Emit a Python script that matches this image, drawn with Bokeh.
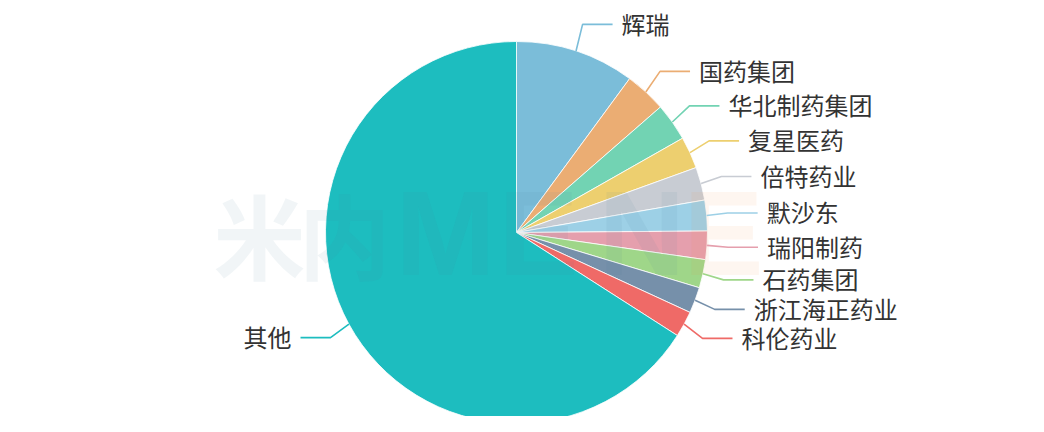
import math
from bokeh.plotting import figure
from bokeh.models import Range1d
from bokeh.embed import file_html
from bokeh.resources import INLINE
from bokeh.core.properties import value

# ---- data ----
names = ["辉瑞", "国药集团", "华北制药集团", "复星医药", "倍特药业", "默沙东",
         "瑞阳制药", "石药集团", "浙江海正药业", "科伦药业", "其他"]
shares = [10.1, 3.5, 3.2, 2.7, 2.8, 2.6, 2.4, 2.4, 2.2, 2.2, 66.0]
colors = ["#7bbdd9", "#ebad73", "#72d3b3", "#edcf6f", "#c8ccd3", "#9dd0e6",
          "#e59fad", "#9fd689", "#7690aa", "#ef6a67", "#1dbdbf"]

# watermark
wm_chars = ["米", "内", "M", "E", "N", "E"]
wm_colors = ["#4d7f99", "#4d7f99", "#4d7f99", "#4d7f99", "#4d7f99", "#f08a3c"]

# ---- layout ----
W, H = 1028, 416
PH = 432  # page height used for screen->data mapping
cx, cy = 516, PH - 232
R = 191
RX, RY = 212, 219   # label-line elbow ellipse
SEG = 30
FONT = value("Noto Sans CJK SC")

p = figure(width=W, height=H, x_range=Range1d(0, W), y_range=Range1d(PH - H, PH),
           output_backend="svg", toolbar_location=None, min_border=0)
p.axis.visible = False
p.grid.visible = False
p.outline_line_color = None
p.background_fill_color = "white"

total = sum(shares)
cum = 0.0
starts, ends, mids = [], [], []
for s in shares:
    a0 = cum / total * 360.0
    cum += s
    a1 = cum / total * 360.0
    starts.append(math.radians(90 - a1))
    ends.append(math.radians(90 - a0))
    mids.append(math.radians((a0 + a1) / 2))

p.wedge(x=[cx] * len(shares), y=[cy] * len(shares), radius=R,
        start_angle=starts, end_angle=ends,
        fill_color=colors, line_color="white", line_width=0.8)

# watermark (drawn over the pie, very faint)
wm_x = [213, 298, 395, 498, 598, 683]
for ch, x0, col in zip(wm_chars, wm_x, wm_colors):
    cjk = ord(ch) > 255
    p.text(x=[x0], y=[cy], text=[ch], text_baseline="middle", text_align="left",
           text_font=value("Noto Sans CJK SC") if cjk else value("Liberation Sans"),
           text_font_style="bold", text_font_size="92px" if cjk else "120px",
           text_color=col, text_alpha=0.08)

# label positions
pts = []
for i, th in enumerate(mids):
    ex, ey = cx + R * math.sin(th), cy + R * math.cos(th)
    bx, by = cx + RX * math.sin(th), cy + RY * math.cos(th)
    pts.append([ex, ey, bx, by, math.sin(th) >= 0])

# relax overlapping labels on each side
GAP = 29
for side in (True, False):
    idx = [i for i in range(len(pts)) if pts[i][4] == side]
    idx.sort(key=lambda i: -pts[i][3])
    for _ in range(200):
        moved = False
        for a, b in zip(idx, idx[1:]):
            d = pts[a][3] - pts[b][3]
            if d < GAP - 0.01:
                sh = (GAP - d) / 2
                pts[a][3] += sh
                pts[b][3] -= sh
                moved = True
        if not moved:
            break

xs, ys, lc = [], [], []
tr_x, tr_y, tr_t = [], [], []
tl_x, tl_y, tl_t = [], [], []
for i, (ex, ey, bx, by, right) in enumerate(pts):
    endx = bx + SEG if right else bx - SEG
    xs.append([ex, bx, endx])
    ys.append([ey, by, by])
    lc.append(colors[i])
    if right:
        tr_x.append(endx + 9); tr_y.append(by + 1); tr_t.append(names[i])
    else:
        tl_x.append(endx - 9); tl_y.append(by + 1); tl_t.append(names[i])

p.multi_line(xs=xs, ys=ys, line_color=lc, line_width=1.6)

p.text(x=tr_x, y=tr_y, text=tr_t, text_baseline="middle", text_align="left",
       text_font=FONT, text_font_size="24px", text_color="#333333")
p.text(x=tl_x, y=tl_y, text=tl_t, text_baseline="middle", text_align="right",
       text_font=FONT, text_font_size="24px", text_color="#333333")

open("out.html", "w").write(file_html(p, INLINE))
